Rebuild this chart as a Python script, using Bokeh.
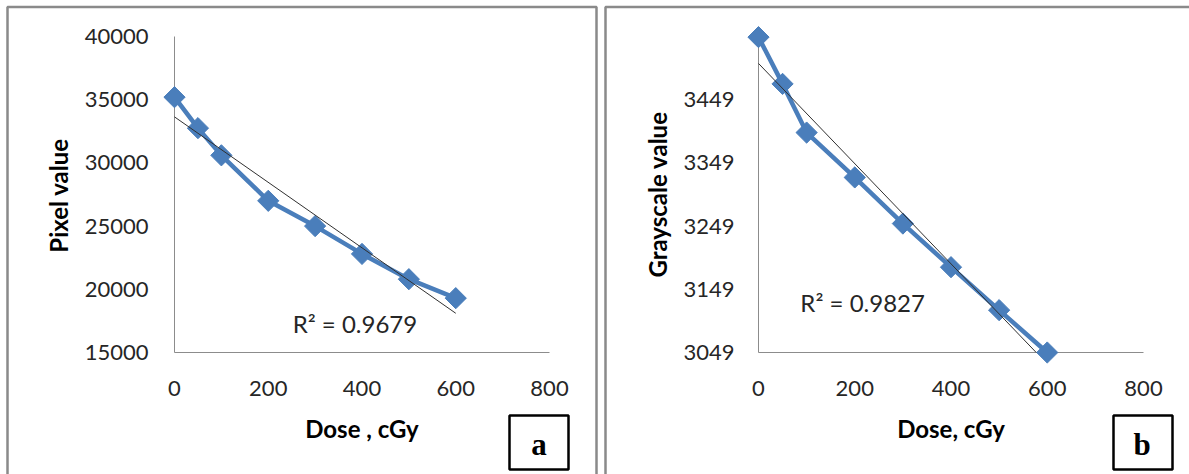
import numpy as np
from bokeh.plotting import figure
from bokeh.models import Label, BoxAnnotation, Range1d
from bokeh.core.properties import value
from bokeh.layouts import row
from bokeh.embed import file_html
from bokeh.resources import INLINE

# ---------------- data ----------------
dose_a = [0, 50, 100, 200, 300, 400, 500, 600]
pixel_value = [35200, 32750, 30600, 27000, 25000, 22800, 20800, 19300]
dose_b = [0, 50, 100, 200, 300, 400, 500, 600]
grayscale_value = [3548, 3474, 3397, 3326, 3253, 3184, 3116, 3049]
x_ticks = [0, 200, 400, 600, 800]
y_ticks_a = [15000, 20000, 25000, 30000, 35000, 40000]
y_ticks_b = [3049, 3149, 3249, 3349, 3449]
y_max_b = 3549
r2_a = "R² = 0.9679"
r2_b = "R² = 0.9827"
x_title_a = "Dose , cGy"
x_title_b = "Dose, cGy"
y_title_a = "Pixel value"
y_title_b = "Grayscale value"

BLUE = "#4a7ebb"
AXIS = "#8c8c8c"
TXT = "#262626"
FONT = "Lato"
H = 474


def panel(W, xs, ys, y_lo, y_hi, yticks, geom, r2, r2_pos, xt, yt, ytitle_pos,
          letter, letter_x, border, lbox):
    # geom: pixel positions of x=first tick, x=last tick, y=y_lo, y=y_hi, y-label right edge
    ax0, ax1, ay0, ay1, lab_r = geom
    kx = (ax1 - ax0) / (x_ticks[-1] - x_ticks[0])
    ky = (ay0 - ay1) / (y_hi - y_lo)
    x_start = x_ticks[0] - ax0 / kx
    x_end = x_ticks[-1] + (W - ax1) / kx
    y_start = y_lo - (H - ay0) / ky
    y_end = y_hi + ay1 / ky
    p = figure(width=W, height=H, output_backend="svg", toolbar_location=None,
               x_range=Range1d(x_start, x_end), y_range=Range1d(y_start, y_end),
               x_axis_location=None, y_axis_location=None, min_border=0)
    p.outline_line_color = None
    p.grid.visible = False
    p.background_fill_color = "white"
    p.border_fill_color = "white"

    # panel border
    p.add_layout(BoxAnnotation(left=border[0], right=border[1], top=H - border[2], bottom=-20,
                               left_units="screen", right_units="screen",
                               top_units="screen", bottom_units="screen",
                               fill_color=None, line_color="#8a8a8a", line_alpha=1.0,
                               line_width=2.5))

    # axis lines
    p.segment(x0=[x_ticks[0], x_ticks[0]], y0=[y_lo, y_lo], x1=[x_ticks[-1], x_ticks[0]],
              y1=[y_lo, y_hi], line_color=AXIS, line_width=1)

    # tick labels
    p.text(x=x_ticks, y=[y_lo] * len(x_ticks), text=[str(t) for t in x_ticks],
           y_offset=36, text_align="center", text_baseline="middle",
           text_font=value(FONT), text_font_size="22px", text_color=TXT)
    p.text(x=[x_ticks[0]] * len(yticks), y=yticks, text=[str(t) for t in yticks],
           x_offset=lab_r - ax0, text_align="right", text_baseline="middle",
           text_font=value(FONT), text_font_size="22px", text_color=TXT)

    # axis titles
    p.add_layout(Label(x=(x_ticks[0] + x_ticks[-1]) / 2, y=H - 428, x_units="data", y_units="screen",
                       text=xt, text_font=FONT, text_font_size="24px", text_font_style="bold",
                       text_color="black", text_align="center", text_baseline="middle"))
    p.add_layout(Label(x=ytitle_pos[0], y=H - ytitle_pos[1], x_units="screen", y_units="screen",
                       text=yt, angle=np.pi / 2, text_font=FONT, text_font_size="24px",
                       text_font_style="bold", text_color="black",
                       text_align="center", text_baseline="middle"))

    # linear trendline (least squares), clipped at the axis minimum
    m, b = np.polyfit(xs, ys, 1)
    x_end_t = max(xs)
    if m * x_end_t + b < y_lo:
        x_end_t = (y_lo - b) / m

    p.line(xs, ys, line_color=BLUE, line_width=4.5)
    p.scatter(xs, ys, marker="square", angle=np.pi / 4, size=15,
              fill_color=BLUE, line_color=BLUE)
    p.line([min(xs), x_end_t], [b + m * min(xs), b + m * x_end_t],
           line_color="#303030", line_width=1)

    p.add_layout(Label(x=r2_pos[0], y=H - r2_pos[1], x_units="data", y_units="screen",
                       text=r2, text_font=FONT, text_font_size="24px", text_color=TXT,
                       text_baseline="middle"))

    # letter box
    p.add_layout(BoxAnnotation(left=lbox[0], right=lbox[1], bottom=H - lbox[3], top=H - lbox[2],
                               left_units="screen", right_units="screen",
                               top_units="screen", bottom_units="screen",
                               fill_color="white", fill_alpha=1.0,
                               line_color="black", line_alpha=1.0, line_width=2.5))
    p.add_layout(Label(x=letter_x, y=H - 443.5, x_units="screen", y_units="screen", text=letter,
                       text_font="Liberation Serif", text_font_style="bold",
                       text_font_size="31px", text_color="black",
                       text_align="center", text_baseline="middle"))
    return p


pa = panel(601, dose_a, pixel_value, y_ticks_a[0], y_ticks_a[-1], y_ticks_a,
           (174, 549, 352, 36, 148),
           r2_a, (252, 323), x_title_a, y_title_a, (58, 195),
           "a", 538.5, (7, 596, 6.5), (509, 568, 415, 469))
pb = panel(588, dose_b, grayscale_value, y_ticks_b[0], y_max_b, y_ticks_b,
           (157, 542, 352, 36, 133),
           r2_b, (87, 302), x_title_b, y_title_b, (55.5, 194),
           "b", 540.5, (4, 620, 6.5), (512, 571, 415, 469))

layout = row(pa, pb)
open("out.html", "w").write(file_html(layout, INLINE))
